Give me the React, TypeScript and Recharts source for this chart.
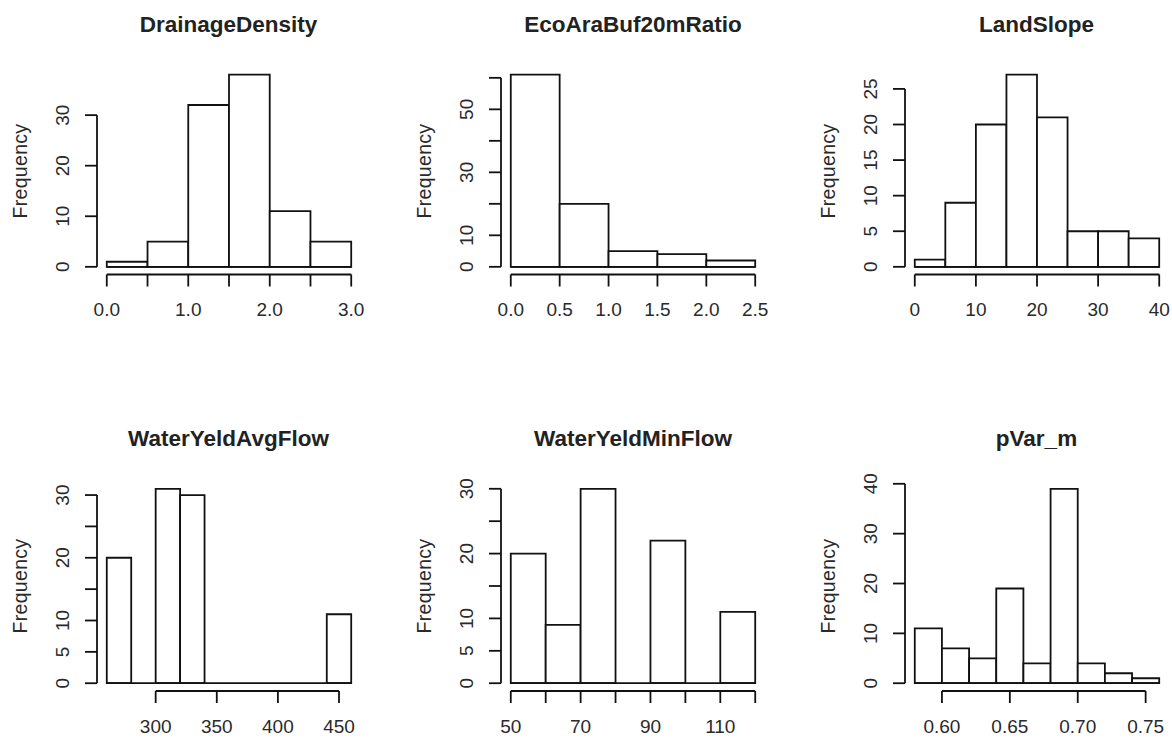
import React from 'react';
import { BarChart, Bar, XAxis, YAxis, ReferenceLine } from 'recharts';

const drainageEdges = [0, 0.5, 1, 1.5, 2, 2.5, 3];
const drainageCounts = [1, 5, 32, 38, 11, 5];
const drainageXTicks = [0, 0.5, 1, 1.5, 2, 2.5, 3];
const drainageXLabels = ['0.0', '', '1.0', '', '2.0', '', '3.0'];
const drainageYTicks = [0, 10, 20, 30];
const drainageYLabels = ['0', '10', '20', '30'];

const ecoEdges = [0, 0.5, 1, 1.5, 2, 2.5];
const ecoCounts = [61, 20, 5, 4, 2];
const ecoXTicks = [0, 0.5, 1, 1.5, 2, 2.5];
const ecoXLabels = ['0.0', '0.5', '1.0', '1.5', '2.0', '2.5'];
const ecoYTicks = [0, 10, 20, 30, 40, 50, 60];
const ecoYLabels = ['0', '10', '', '30', '', '50', ''];

const slopeEdges = [0, 5, 10, 15, 20, 25, 30, 35, 40];
const slopeCounts = [1, 9, 20, 27, 21, 5, 5, 4];
const slopeXTicks = [0, 10, 20, 30, 40];
const slopeXLabels = ['0', '10', '20', '30', '40'];
const slopeYTicks = [0, 5, 10, 15, 20, 25];
const slopeYLabels = ['0', '5', '10', '15', '20', '25'];

const avgFlowEdges = [260, 280, 300, 320, 340, 360, 380, 400, 420, 440, 460];
const avgFlowCounts = [20, 0, 31, 30, 0, 0, 0, 0, 0, 11];
const avgFlowXTicks = [300, 350, 400, 450];
const avgFlowXLabels = ['300', '350', '400', '450'];
const avgFlowYTicks = [0, 5, 10, 15, 20, 25, 30];
const avgFlowYLabels = ['0', '5', '10', '', '20', '', '30'];

const minFlowEdges = [50, 60, 70, 80, 90, 100, 110, 120];
const minFlowCounts = [20, 9, 30, 0, 22, 0, 11];
const minFlowXTicks = [50, 60, 70, 80, 90, 100, 110, 120];
const minFlowXLabels = ['50', '', '70', '', '90', '', '110', ''];
const minFlowYTicks = [0, 5, 10, 15, 20, 25, 30];
const minFlowYLabels = ['0', '5', '10', '', '20', '', '30'];

const pVarEdges = [0.58, 0.6, 0.62, 0.64, 0.66, 0.68, 0.7, 0.72, 0.74, 0.76];
const pVarCounts = [11, 7, 5, 19, 4, 39, 4, 2, 1];
const pVarXTicks = [0.6, 0.65, 0.7, 0.75];
const pVarXLabels = ['0.60', '0.65', '0.70', '0.75'];
const pVarYTicks = [0, 10, 20, 30, 40];
const pVarYLabels = ['0', '10', '20', '30', '40'];

const FONT = '"Liberation Sans", Arial, sans-serif';
const INK = '#111';
const LW = 1.8;
const PLOT_W = 264;
const M_LEFT = 96;
const M_TOP = 67;
const M_BOTTOM = 60;
const M_RIGHT = 4;

function XTick(props: any) {
  const { x, y, payload, tickValues, labels } = props;
  const t = labels[tickValues.indexOf(payload.value)];
  if (!t) return <g />;
  return (
    <text x={x} y={y + 23} textAnchor="middle" dominantBaseline="central"
      fontSize={19} fontFamily={FONT} fill="#2a2a2a">{t}</text>
  );
}

function YTick(props: any) {
  const { x, y, payload, tickValues, labels } = props;
  const t = labels[tickValues.indexOf(payload.value)];
  if (!t) return <g />;
  const cx = x - 22;
  return (
    <text x={cx} y={y} transform={`rotate(-90 ${cx} ${y})`} textAnchor="middle"
      dominantBaseline="central" fontSize={19} fontFamily={FONT} fill="#2a2a2a">{t}</text>
  );
}

interface PanelProps {
  title: string;
  edges: number[];
  counts: number[];
  xTicks: number[];
  xLabels: string[];
  yTicks: number[];
  yLabels: string[];
  left: number;
  top: number;
  plotH: number;
}

function Hist({ title, edges, counts, xTicks, xLabels, yTicks, yLabels, left, top, plotH }: PanelProps) {
  const data = counts.map((c, i) => ({ mid: (edges[i] + edges[i + 1]) / 2, count: c }));
  const lo = edges[0];
  const hi = edges[edges.length - 1];
  const span = hi - lo;
  const xDomain = [lo - 0.04 * span, hi + 0.04 * span];
  const yMax = Math.max(...counts);
  const yDomain = [-0.04 * yMax, 1.04 * yMax];
  const binPx = ((edges[1] - edges[0]) / (1.08 * span)) * PLOT_W;
  const w = M_LEFT + PLOT_W + M_RIGHT;
  const h = M_TOP + plotH + M_BOTTOM;

  return (
    <div style={{ position: 'absolute', left, top, width: w, height: h }}>
      <div style={{
        position: 'absolute', left: M_LEFT + PLOT_W / 2 - 150, top: M_TOP - 42 - 14, width: 300,
        lineHeight: '28px', textAlign: 'center', fontFamily: FONT, fontWeight: 'bold',
        fontSize: 22.5, color: '#222',
      }}>{title}</div>
      <div style={{
        position: 'absolute', left: M_LEFT - 77 - 100, top: M_TOP + plotH / 2 - 13, width: 200,
        lineHeight: '26px', textAlign: 'center', fontFamily: FONT, fontSize: 19.5, color: '#2a2a2a',
        transform: 'rotate(-90deg)', letterSpacing: 0.3,
      }}>Frequency</div>
      {/* axes need a non-zero size or Recharts skips them, so 1px each */}
      <BarChart width={w} height={h} data={data}
        margin={{ top: M_TOP, left: M_LEFT - 1, right: M_RIGHT, bottom: M_BOTTOM - 1 }}
        barCategoryGap={0} barGap={0}>
        <XAxis dataKey="mid" type="number" domain={xDomain} allowDataOverflow ticks={xTicks}
          interval={0} height={1} axisLine={false} tickSize={12} tickMargin={0}
          tickLine={{ stroke: INK, strokeWidth: LW }}
          tick={(p: any) => <XTick {...p} tickValues={xTicks} labels={xLabels} />} />
        <YAxis type="number" domain={yDomain} allowDataOverflow ticks={yTicks} interval={0}
          width={1} axisLine={false} tickSize={12} tickMargin={0}
          tickLine={{ stroke: INK, strokeWidth: LW }}
          tick={(p: any) => <YTick {...p} tickValues={yTicks} labels={yLabels} />} />
        <Bar dataKey="count" fill="#fff" stroke={INK} strokeWidth={LW}
          barSize={binPx - 0.01} isAnimationActive={false} />
        <ReferenceLine ifOverflow="visible" stroke={INK} strokeWidth={LW}
          segment={[{ x: lo, y: 0 }, { x: hi, y: 0 }]} />
        <ReferenceLine ifOverflow="visible" stroke={INK} strokeWidth={LW}
          segment={[{ x: xTicks[0], y: yDomain[0] }, { x: xTicks[xTicks.length - 1], y: yDomain[0] }]} />
        <ReferenceLine ifOverflow="visible" stroke={INK} strokeWidth={LW}
          segment={[{ x: xDomain[0], y: 0 }, { x: xDomain[0], y: yTicks[yTicks.length - 1] }]} />
      </BarChart>
    </div>
  );
}

const COLS = [0.5, 405, 808.5];

export default function App() {
  return (
    <div style={{
      position: 'absolute', left: 0, top: 0, width: 1172, height: 738,
      background: '#fff', overflow: 'hidden',
    }}>
      <Hist title="DrainageDensity" edges={drainageEdges} counts={drainageCounts}
        xTicks={drainageXTicks} xLabels={drainageXLabels} yTicks={drainageYTicks}
        yLabels={drainageYLabels} left={COLS[0]} top={0} plotH={207.5} />
      <Hist title="EcoAraBuf20mRatio" edges={ecoEdges} counts={ecoCounts}
        xTicks={ecoXTicks} xLabels={ecoXLabels} yTicks={ecoYTicks}
        yLabels={ecoYLabels} left={COLS[1]} top={0} plotH={207.5} />
      <Hist title="LandSlope" edges={slopeEdges} counts={slopeCounts}
        xTicks={slopeXTicks} xLabels={slopeXLabels} yTicks={slopeYTicks}
        yLabels={slopeYLabels} left={COLS[2]} top={0} plotH={207.5} />
      <Hist title="WaterYeldAvgFlow" edges={avgFlowEdges} counts={avgFlowCounts}
        xTicks={avgFlowXTicks} xLabels={avgFlowXLabels} yTicks={avgFlowYTicks}
        yLabels={avgFlowYLabels} left={COLS[0]} top={414} plotH={210} />
      <Hist title="WaterYeldMinFlow" edges={minFlowEdges} counts={minFlowCounts}
        xTicks={minFlowXTicks} xLabels={minFlowXLabels} yTicks={minFlowYTicks}
        yLabels={minFlowYLabels} left={COLS[1]} top={414} plotH={210} />
      <Hist title="pVar_m" edges={pVarEdges} counts={pVarCounts}
        xTicks={pVarXTicks} xLabels={pVarXLabels} yTicks={pVarYTicks}
        yLabels={pVarYLabels} left={COLS[2]} top={414} plotH={210} />
    </div>
  );
}
